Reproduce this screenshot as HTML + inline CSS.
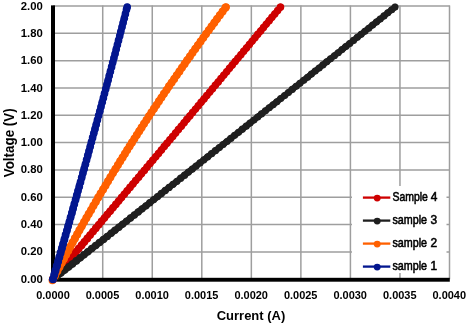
<!DOCTYPE html><html><head><meta charset="utf-8"><style>html,body{margin:0;padding:0;background:#fff;}svg{display:block;}text{font-family:"Liberation Sans",Arial,sans-serif;font-weight:bold;fill:#000;}</style></head><body>
<svg width="468" height="325" viewBox="0 0 468 325">
<rect width="468" height="325" fill="#fff"/>
<g stroke="#9E9E9E" stroke-width="1.5"><line x1="53.0" y1="251.94" x2="449.8" y2="251.94"/><line x1="53.0" y1="224.61" x2="449.8" y2="224.61"/><line x1="53.0" y1="197.28" x2="449.8" y2="197.28"/><line x1="53.0" y1="169.95" x2="449.8" y2="169.95"/><line x1="53.0" y1="142.62" x2="449.8" y2="142.62"/><line x1="53.0" y1="115.29" x2="449.8" y2="115.29"/><line x1="53.0" y1="87.96" x2="449.8" y2="87.96"/><line x1="53.0" y1="60.63" x2="449.8" y2="60.63"/><line x1="53.0" y1="33.30" x2="449.8" y2="33.30"/><line x1="53.0" y1="5.97" x2="449.8" y2="5.97"/><line x1="102.72" y1="5.47" x2="102.72" y2="279.27"/><line x1="152.26" y1="5.47" x2="152.26" y2="279.27"/><line x1="201.80" y1="5.47" x2="201.80" y2="279.27"/><line x1="251.34" y1="5.47" x2="251.34" y2="279.27"/><line x1="300.88" y1="5.47" x2="300.88" y2="279.27"/><line x1="350.42" y1="5.47" x2="350.42" y2="279.27"/><line x1="399.96" y1="5.47" x2="399.96" y2="279.27"/><line x1="449.50" y1="5.47" x2="449.50" y2="279.27"/></g>
<rect x="51" y="5.37" width="4" height="276.43" fill="#000"/>
<rect x="51" y="277.8" width="398.8" height="3.9" fill="#000"/>
<g fill="none" stroke="#CE0000" stroke-linecap="round" stroke-linejoin="round"><polyline points="53.00,279.27 55.86,275.87 58.72,272.46 61.57,269.06 64.43,265.66" stroke-width="6.94"/><polyline points="64.43,265.66 67.29,262.26 70.14,258.85 73.00,255.45 75.86,252.05" stroke-width="6.85"/><polyline points="75.86,252.05 78.71,248.65 81.57,245.24 84.42,241.84 87.28,238.44" stroke-width="6.76"/><polyline points="87.28,238.44 90.13,235.04 92.98,231.63 95.84,228.23 98.69,224.83" stroke-width="6.70"/><polyline points="98.69,224.83 101.54,221.43 104.39,218.02 107.24,214.62 110.10,211.22" stroke-width="6.64"/><polyline points="110.10,211.22 112.95,207.82 115.80,204.41 118.65,201.01 121.50,197.61" stroke-width="6.60"/><polyline points="121.50,197.61 124.35,194.21 127.20,190.80 130.04,187.40 132.89,184.00" stroke-width="6.56"/><polyline points="132.89,184.00 135.74,180.60 138.59,177.19 141.44,173.79 144.28,170.39" stroke-width="6.53"/><polyline points="144.28,170.39 147.13,166.98 149.97,163.58 152.82,160.18 155.67,156.78" stroke-width="6.51"/><polyline points="155.67,156.78 158.51,153.37 161.36,149.97 164.20,146.57 167.04,143.17" stroke-width="6.49"/><polyline points="167.04,143.17 169.89,139.76 172.73,136.36 175.57,132.96 178.41,129.56" stroke-width="6.47"/><polyline points="178.41,129.56 181.26,126.15 184.10,122.75 186.94,119.35 189.78,115.95" stroke-width="6.46"/><polyline points="189.78,115.95 192.62,112.54 195.46,109.14 198.30,105.74 201.14,102.34" stroke-width="6.45"/><polyline points="201.14,102.34 203.98,98.93 206.82,95.53 209.66,92.13 212.49,88.73" stroke-width="6.44"/><polyline points="212.49,88.73 215.33,85.32 218.17,81.92 221.01,78.52 223.84,75.11" stroke-width="6.43"/><polyline points="223.84,75.11 226.68,71.71 229.51,68.31 232.35,64.91 235.18,61.50" stroke-width="6.43"/><polyline points="235.18,61.50 238.02,58.10 240.85,54.70 243.69,51.30 246.52,47.89" stroke-width="6.42"/><polyline points="246.52,47.89 249.35,44.49 252.18,41.09 255.02,37.69 257.85,34.28" stroke-width="6.42"/><polyline points="257.85,34.28 260.68,30.88 263.51,27.48 266.34,24.08 269.17,20.67" stroke-width="6.42"/><polyline points="269.17,20.67 272.00,17.27 274.83,13.87 277.66,10.47 280.49,7.06" stroke-width="6.41"/></g>
<g fill="#CE0000"><circle cx="53.0" cy="279.3" r="4.00"/><circle cx="55.9" cy="275.9" r="3.99"/><circle cx="58.7" cy="272.5" r="3.97"/><circle cx="61.6" cy="269.1" r="3.96"/><circle cx="64.4" cy="265.7" r="3.95"/><circle cx="67.3" cy="262.3" r="3.93"/><circle cx="70.1" cy="258.9" r="3.92"/><circle cx="73.0" cy="255.5" r="3.91"/><circle cx="75.9" cy="252.0" r="3.90"/><circle cx="78.7" cy="248.6" r="3.89"/><circle cx="81.6" cy="245.2" r="3.88"/><circle cx="84.4" cy="241.8" r="3.87"/><circle cx="87.3" cy="238.4" r="3.87"/><circle cx="90.1" cy="235.0" r="3.86"/><circle cx="93.0" cy="231.6" r="3.85"/><circle cx="95.8" cy="228.2" r="3.84"/><circle cx="98.7" cy="224.8" r="3.84"/><circle cx="101.5" cy="221.4" r="3.83"/><circle cx="104.4" cy="218.0" r="3.82"/><circle cx="107.2" cy="214.6" r="3.82"/><circle cx="110.1" cy="211.2" r="3.81"/><circle cx="112.9" cy="207.8" r="3.81"/><circle cx="115.8" cy="204.4" r="3.80"/><circle cx="118.6" cy="201.0" r="3.80"/><circle cx="121.5" cy="197.6" r="3.79"/><circle cx="124.3" cy="194.2" r="3.79"/><circle cx="127.2" cy="190.8" r="3.78"/><circle cx="130.0" cy="187.4" r="3.78"/><circle cx="132.9" cy="184.0" r="3.77"/><circle cx="135.7" cy="180.6" r="3.77"/><circle cx="138.6" cy="177.2" r="3.77"/><circle cx="141.4" cy="173.8" r="3.76"/><circle cx="144.3" cy="170.4" r="3.76"/><circle cx="147.1" cy="167.0" r="3.76"/><circle cx="150.0" cy="163.6" r="3.76"/><circle cx="152.8" cy="160.2" r="3.75"/><circle cx="155.7" cy="156.8" r="3.75"/><circle cx="158.5" cy="153.4" r="3.75"/><circle cx="161.4" cy="150.0" r="3.75"/><circle cx="164.2" cy="146.6" r="3.74"/><circle cx="167.0" cy="143.2" r="3.74"/><circle cx="169.9" cy="139.8" r="3.74"/><circle cx="172.7" cy="136.4" r="3.74"/><circle cx="175.6" cy="133.0" r="3.74"/><circle cx="178.4" cy="129.6" r="3.73"/><circle cx="181.3" cy="126.2" r="3.73"/><circle cx="184.1" cy="122.8" r="3.73"/><circle cx="186.9" cy="119.3" r="3.73"/><circle cx="189.8" cy="115.9" r="3.73"/><circle cx="192.6" cy="112.5" r="3.73"/><circle cx="195.5" cy="109.1" r="3.72"/><circle cx="198.3" cy="105.7" r="3.72"/><circle cx="201.1" cy="102.3" r="3.72"/><circle cx="204.0" cy="98.9" r="3.72"/><circle cx="206.8" cy="95.5" r="3.72"/><circle cx="209.7" cy="92.1" r="3.72"/><circle cx="212.5" cy="88.7" r="3.72"/><circle cx="215.3" cy="85.3" r="3.72"/><circle cx="218.2" cy="81.9" r="3.72"/><circle cx="221.0" cy="78.5" r="3.72"/><circle cx="223.8" cy="75.1" r="3.72"/><circle cx="226.7" cy="71.7" r="3.71"/><circle cx="229.5" cy="68.3" r="3.71"/><circle cx="232.3" cy="64.9" r="3.71"/><circle cx="235.2" cy="61.5" r="3.71"/><circle cx="238.0" cy="58.1" r="3.71"/><circle cx="240.9" cy="54.7" r="3.71"/><circle cx="243.7" cy="51.3" r="3.71"/><circle cx="246.5" cy="47.9" r="3.71"/><circle cx="249.4" cy="44.5" r="3.71"/><circle cx="252.2" cy="41.1" r="3.71"/><circle cx="255.0" cy="37.7" r="3.71"/><circle cx="257.8" cy="34.3" r="3.71"/><circle cx="260.7" cy="30.9" r="3.71"/><circle cx="263.5" cy="27.5" r="3.71"/><circle cx="266.3" cy="24.1" r="3.71"/><circle cx="269.2" cy="20.7" r="3.71"/><circle cx="272.0" cy="17.3" r="3.71"/><circle cx="274.8" cy="13.9" r="3.71"/><circle cx="277.7" cy="10.5" r="3.71"/><circle cx="280.5" cy="7.1" r="3.71"/><circle cx="280.5" cy="7.1" r="3.71"/></g>
<g fill="none" stroke="#1F1F1F" stroke-linecap="round" stroke-linejoin="round"><polyline points="53.00,279.27 57.31,275.87 61.63,272.46 65.94,269.06 70.25,265.66" stroke-width="6.64"/><polyline points="70.25,265.66 74.56,262.26 78.87,258.85 83.18,255.45 87.49,252.05" stroke-width="6.55"/><polyline points="87.49,252.05 91.80,248.65 96.10,245.24 100.41,241.84 104.71,238.44" stroke-width="6.46"/><polyline points="104.71,238.44 109.01,235.04 113.32,231.63 117.62,228.23 121.92,224.83" stroke-width="6.40"/><polyline points="121.92,224.83 126.21,221.43 130.51,218.02 134.81,214.62 139.10,211.22" stroke-width="6.34"/><polyline points="139.10,211.22 143.40,207.82 147.69,204.41 151.99,201.01 156.28,197.61" stroke-width="6.30"/><polyline points="156.28,197.61 160.57,194.21 164.86,190.80 169.15,187.40 173.44,184.00" stroke-width="6.26"/><polyline points="173.44,184.00 177.72,180.60 182.01,177.19 186.29,173.79 190.58,170.39" stroke-width="6.23"/><polyline points="190.58,170.39 194.86,166.98 199.14,163.58 203.42,160.18 207.70,156.78" stroke-width="6.21"/><polyline points="207.70,156.78 211.98,153.37 216.26,149.97 220.54,146.57 224.81,143.17" stroke-width="6.19"/><polyline points="224.81,143.17 229.09,139.76 233.36,136.36 237.64,132.96 241.91,129.56" stroke-width="6.17"/><polyline points="241.91,129.56 246.18,126.15 250.45,122.75 254.72,119.35 258.99,115.95" stroke-width="6.16"/><polyline points="258.99,115.95 263.25,112.54 267.52,109.14 271.78,105.74 276.05,102.34" stroke-width="6.15"/><polyline points="276.05,102.34 280.31,98.93 284.57,95.53 288.83,92.13 293.09,88.73" stroke-width="6.14"/><polyline points="293.09,88.73 297.35,85.32 301.61,81.92 305.87,78.52 310.12,75.11" stroke-width="6.13"/><polyline points="310.12,75.11 314.38,71.71 318.63,68.31 322.89,64.91 327.14,61.50" stroke-width="6.13"/><polyline points="327.14,61.50 331.39,58.10 335.64,54.70 339.89,51.30 344.14,47.89" stroke-width="6.12"/><polyline points="344.14,47.89 348.39,44.49 352.63,41.09 356.88,37.69 361.12,34.28" stroke-width="6.12"/><polyline points="361.12,34.28 365.36,30.88 369.61,27.48 373.85,24.08 378.09,20.67" stroke-width="6.12"/><polyline points="378.09,20.67 382.33,17.27 386.57,13.87 390.80,10.47 395.04,7.06" stroke-width="6.11"/></g>
<g fill="#1F1F1F"><circle cx="53.0" cy="279.3" r="3.85"/><circle cx="56.9" cy="276.2" r="3.84"/><circle cx="60.8" cy="273.1" r="3.82"/><circle cx="64.6" cy="270.1" r="3.81"/><circle cx="68.5" cy="267.0" r="3.80"/><circle cx="72.4" cy="264.0" r="3.79"/><circle cx="76.3" cy="260.9" r="3.78"/><circle cx="80.2" cy="257.8" r="3.77"/><circle cx="84.0" cy="254.8" r="3.76"/><circle cx="87.9" cy="251.7" r="3.75"/><circle cx="91.8" cy="248.6" r="3.74"/><circle cx="95.7" cy="245.6" r="3.73"/><circle cx="99.5" cy="242.5" r="3.73"/><circle cx="103.4" cy="239.5" r="3.72"/><circle cx="107.3" cy="236.4" r="3.71"/><circle cx="111.2" cy="233.3" r="3.70"/><circle cx="115.0" cy="230.3" r="3.70"/><circle cx="118.9" cy="227.2" r="3.69"/><circle cx="122.8" cy="224.1" r="3.68"/><circle cx="126.6" cy="221.1" r="3.68"/><circle cx="130.5" cy="218.0" r="3.67"/><circle cx="134.4" cy="215.0" r="3.67"/><circle cx="138.2" cy="211.9" r="3.66"/><circle cx="142.1" cy="208.8" r="3.66"/><circle cx="146.0" cy="205.8" r="3.65"/><circle cx="149.8" cy="202.7" r="3.65"/><circle cx="153.7" cy="199.6" r="3.64"/><circle cx="157.6" cy="196.6" r="3.64"/><circle cx="161.4" cy="193.5" r="3.64"/><circle cx="165.3" cy="190.5" r="3.63"/><circle cx="169.1" cy="187.4" r="3.63"/><circle cx="173.0" cy="184.3" r="3.62"/><circle cx="176.9" cy="181.3" r="3.62"/><circle cx="180.7" cy="178.2" r="3.62"/><circle cx="184.6" cy="175.2" r="3.62"/><circle cx="188.4" cy="172.1" r="3.61"/><circle cx="192.3" cy="169.0" r="3.61"/><circle cx="196.1" cy="166.0" r="3.61"/><circle cx="200.0" cy="162.9" r="3.60"/><circle cx="203.9" cy="159.8" r="3.60"/><circle cx="207.7" cy="156.8" r="3.60"/><circle cx="211.6" cy="153.7" r="3.60"/><circle cx="215.4" cy="150.7" r="3.60"/><circle cx="219.3" cy="147.6" r="3.59"/><circle cx="223.1" cy="144.5" r="3.59"/><circle cx="227.0" cy="141.5" r="3.59"/><circle cx="230.8" cy="138.4" r="3.59"/><circle cx="234.6" cy="135.3" r="3.59"/><circle cx="238.5" cy="132.3" r="3.58"/><circle cx="242.3" cy="129.2" r="3.58"/><circle cx="246.2" cy="126.2" r="3.58"/><circle cx="250.0" cy="123.1" r="3.58"/><circle cx="253.9" cy="120.0" r="3.58"/><circle cx="257.7" cy="117.0" r="3.58"/><circle cx="261.5" cy="113.9" r="3.58"/><circle cx="265.4" cy="110.8" r="3.58"/><circle cx="269.2" cy="107.8" r="3.57"/><circle cx="273.1" cy="104.7" r="3.57"/><circle cx="276.9" cy="101.7" r="3.57"/><circle cx="280.7" cy="98.6" r="3.57"/><circle cx="284.6" cy="95.5" r="3.57"/><circle cx="288.4" cy="92.5" r="3.57"/><circle cx="292.2" cy="89.4" r="3.57"/><circle cx="296.1" cy="86.3" r="3.57"/><circle cx="299.9" cy="83.3" r="3.57"/><circle cx="303.7" cy="80.2" r="3.57"/><circle cx="307.6" cy="77.2" r="3.57"/><circle cx="311.4" cy="74.1" r="3.56"/><circle cx="315.2" cy="71.0" r="3.56"/><circle cx="319.1" cy="68.0" r="3.56"/><circle cx="322.9" cy="64.9" r="3.56"/><circle cx="326.7" cy="61.8" r="3.56"/><circle cx="330.5" cy="58.8" r="3.56"/><circle cx="334.4" cy="55.7" r="3.56"/><circle cx="338.2" cy="52.7" r="3.56"/><circle cx="342.0" cy="49.6" r="3.56"/><circle cx="345.8" cy="46.5" r="3.56"/><circle cx="349.7" cy="43.5" r="3.56"/><circle cx="353.5" cy="40.4" r="3.56"/><circle cx="357.3" cy="37.3" r="3.56"/><circle cx="361.1" cy="34.3" r="3.56"/><circle cx="364.9" cy="31.2" r="3.56"/><circle cx="368.8" cy="28.2" r="3.56"/><circle cx="372.6" cy="25.1" r="3.56"/><circle cx="376.4" cy="22.0" r="3.56"/><circle cx="380.2" cy="19.0" r="3.56"/><circle cx="384.0" cy="15.9" r="3.56"/><circle cx="387.8" cy="12.8" r="3.56"/><circle cx="391.7" cy="9.8" r="3.56"/><circle cx="395.0" cy="7.1" r="3.56"/></g>
<g fill="none" stroke="#FF6000" stroke-linecap="round" stroke-linejoin="round"><polyline points="53.00,279.27 54.77,275.87 56.55,272.46 58.34,269.06 60.14,265.66" stroke-width="7.17"/><polyline points="60.14,265.66 61.95,262.26 63.77,258.85 65.60,255.45 67.44,252.05" stroke-width="7.12"/><polyline points="67.44,252.05 69.29,248.65 71.15,245.24 73.02,241.84 74.90,238.44" stroke-width="7.08"/><polyline points="74.90,238.44 76.79,235.04 78.69,231.63 80.60,228.23 82.51,224.83" stroke-width="7.05"/><polyline points="82.51,224.83 84.44,221.43 86.38,218.02 88.33,214.62 90.29,211.22" stroke-width="7.02"/><polyline points="90.29,211.22 92.26,207.82 94.24,204.41 96.23,201.01 98.22,197.61" stroke-width="7.00"/><polyline points="98.22,197.61 100.23,194.21 102.25,190.80 104.28,187.40 106.32,184.00" stroke-width="6.98"/><polyline points="106.32,184.00 108.36,180.60 110.42,177.19 112.49,173.79 114.57,170.39" stroke-width="6.97"/><polyline points="114.57,170.39 116.65,166.98 118.75,163.58 120.86,160.18 122.97,156.78" stroke-width="6.96"/><polyline points="122.97,156.78 125.10,153.37 127.24,149.97 129.39,146.57 131.54,143.17" stroke-width="6.95"/><polyline points="131.54,143.17 133.71,139.76 135.89,136.36 138.07,132.96 140.27,129.56" stroke-width="6.94"/><polyline points="140.27,129.56 142.48,126.15 144.69,122.75 146.92,119.35 149.15,115.95" stroke-width="6.93"/><polyline points="149.15,115.95 151.40,112.54 153.66,109.14 155.92,105.74 158.20,102.34" stroke-width="6.92"/><polyline points="158.20,102.34 160.48,98.93 162.78,95.53 165.08,92.13 167.40,88.73" stroke-width="6.92"/><polyline points="167.40,88.73 169.72,85.32 172.06,81.92 174.40,78.52 176.76,75.11" stroke-width="6.92"/><polyline points="176.76,75.11 179.12,71.71 181.50,68.31 183.88,64.91 186.28,61.50" stroke-width="6.91"/><polyline points="186.28,61.50 188.68,58.10 191.10,54.70 193.52,51.30 195.95,47.89" stroke-width="6.91"/><polyline points="195.95,47.89 198.40,44.49 200.85,41.09 203.32,37.69 205.79,34.28" stroke-width="6.91"/><polyline points="205.79,34.28 208.27,30.88 210.77,27.48 213.27,24.08 215.78,20.67" stroke-width="6.91"/><polyline points="215.78,20.67 218.31,17.27 220.84,13.87 223.38,10.47 225.94,7.06" stroke-width="6.91"/></g>
<g fill="#FF6000"><circle cx="53.0" cy="279.3" r="4.10"/><circle cx="55.1" cy="275.2" r="4.09"/><circle cx="57.3" cy="271.1" r="4.08"/><circle cx="59.4" cy="267.0" r="4.08"/><circle cx="61.6" cy="262.9" r="4.07"/><circle cx="63.8" cy="258.9" r="4.06"/><circle cx="66.0" cy="254.8" r="4.05"/><circle cx="68.2" cy="250.7" r="4.05"/><circle cx="70.4" cy="246.6" r="4.04"/><circle cx="72.6" cy="242.5" r="4.04"/><circle cx="74.9" cy="238.4" r="4.03"/><circle cx="77.2" cy="234.4" r="4.03"/><circle cx="79.4" cy="230.3" r="4.02"/><circle cx="81.7" cy="226.2" r="4.02"/><circle cx="84.1" cy="222.1" r="4.01"/><circle cx="86.4" cy="218.0" r="4.01"/><circle cx="88.7" cy="213.9" r="4.01"/><circle cx="91.1" cy="209.9" r="4.00"/><circle cx="93.4" cy="205.8" r="4.00"/><circle cx="95.8" cy="201.7" r="4.00"/><circle cx="98.2" cy="197.6" r="4.00"/><circle cx="100.6" cy="193.5" r="3.99"/><circle cx="103.1" cy="189.4" r="3.99"/><circle cx="105.5" cy="185.4" r="3.99"/><circle cx="108.0" cy="181.3" r="3.99"/><circle cx="110.4" cy="177.2" r="3.98"/><circle cx="112.9" cy="173.1" r="3.98"/><circle cx="115.4" cy="169.0" r="3.98"/><circle cx="117.9" cy="164.9" r="3.98"/><circle cx="120.2" cy="161.2" r="3.98"/><circle cx="122.6" cy="157.5" r="3.98"/><circle cx="124.9" cy="153.7" r="3.97"/><circle cx="127.2" cy="150.0" r="3.97"/><circle cx="129.6" cy="146.2" r="3.97"/><circle cx="132.0" cy="142.5" r="3.97"/><circle cx="134.4" cy="138.7" r="3.97"/><circle cx="136.8" cy="135.0" r="3.97"/><circle cx="139.2" cy="131.3" r="3.97"/><circle cx="141.6" cy="127.5" r="3.97"/><circle cx="144.0" cy="123.8" r="3.97"/><circle cx="146.5" cy="120.0" r="3.96"/><circle cx="148.9" cy="116.3" r="3.96"/><circle cx="151.4" cy="112.5" r="3.96"/><circle cx="153.9" cy="108.8" r="3.96"/><circle cx="156.4" cy="105.1" r="3.96"/><circle cx="158.9" cy="101.3" r="3.96"/><circle cx="161.4" cy="97.6" r="3.96"/><circle cx="163.9" cy="93.8" r="3.96"/><circle cx="166.5" cy="90.1" r="3.96"/><circle cx="169.0" cy="86.3" r="3.96"/><circle cx="171.6" cy="82.6" r="3.96"/><circle cx="174.2" cy="78.9" r="3.96"/><circle cx="176.8" cy="75.1" r="3.96"/><circle cx="179.4" cy="71.4" r="3.96"/><circle cx="182.0" cy="67.6" r="3.96"/><circle cx="184.6" cy="63.9" r="3.96"/><circle cx="187.2" cy="60.1" r="3.96"/><circle cx="189.9" cy="56.4" r="3.96"/><circle cx="192.5" cy="52.7" r="3.96"/><circle cx="195.2" cy="48.9" r="3.96"/><circle cx="197.9" cy="45.2" r="3.95"/><circle cx="200.6" cy="41.4" r="3.95"/><circle cx="203.3" cy="37.7" r="3.95"/><circle cx="206.0" cy="33.9" r="3.95"/><circle cx="208.8" cy="30.2" r="3.95"/><circle cx="211.5" cy="26.5" r="3.95"/><circle cx="214.3" cy="22.7" r="3.95"/><circle cx="217.0" cy="19.0" r="3.95"/><circle cx="219.8" cy="15.2" r="3.95"/><circle cx="222.6" cy="11.5" r="3.95"/><circle cx="225.4" cy="7.7" r="3.95"/><circle cx="225.9" cy="7.1" r="3.95"/></g>
<circle cx="52.4" cy="280.5" r="3.8" fill="#FF6000"/>
<g fill="none" stroke="#03168F" stroke-linecap="round" stroke-linejoin="round"><polyline points="53.00,279.27 53.98,275.87 54.96,272.46 55.93,269.06 56.91,265.66" stroke-width="7.05"/><polyline points="56.91,265.66 57.88,262.26 58.86,258.85 59.83,255.45 60.80,252.05" stroke-width="6.97"/><polyline points="60.80,252.05 61.77,248.65 62.73,245.24 63.70,241.84 64.67,238.44" stroke-width="6.90"/><polyline points="64.67,238.44 65.63,235.04 66.59,231.63 67.55,228.23 68.51,224.83" stroke-width="6.85"/><polyline points="68.51,224.83 69.47,221.43 70.43,218.02 71.38,214.62 72.34,211.22" stroke-width="6.80"/><polyline points="72.34,211.22 73.29,207.82 74.24,204.41 75.19,201.01 76.14,197.61" stroke-width="6.77"/><polyline points="76.14,197.61 77.09,194.21 78.03,190.80 78.98,187.40 79.92,184.00" stroke-width="6.74"/><polyline points="79.92,184.00 80.86,180.60 81.80,177.19 82.74,173.79 83.68,170.39" stroke-width="6.71"/><polyline points="83.68,170.39 84.62,166.98 85.56,163.58 86.49,160.18 87.42,156.78" stroke-width="6.69"/><polyline points="87.42,156.78 88.35,153.37 89.28,149.97 90.21,146.57 91.14,143.17" stroke-width="6.68"/><polyline points="91.14,143.17 92.07,139.76 92.99,136.36 93.92,132.96 94.84,129.56" stroke-width="6.66"/><polyline points="94.84,129.56 95.76,126.15 96.68,122.75 97.60,119.35 98.51,115.95" stroke-width="6.65"/><polyline points="98.51,115.95 99.43,112.54 100.34,109.14 101.26,105.74 102.17,102.34" stroke-width="6.64"/><polyline points="102.17,102.34 103.08,98.93 103.99,95.53 104.90,92.13 105.80,88.73" stroke-width="6.63"/><polyline points="105.80,88.73 106.71,85.32 107.61,81.92 108.51,78.52 109.42,75.11" stroke-width="6.63"/><polyline points="109.42,75.11 110.32,71.71 111.21,68.31 112.11,64.91 113.01,61.50" stroke-width="6.62"/><polyline points="113.01,61.50 113.90,58.10 114.79,54.70 115.69,51.30 116.58,47.89" stroke-width="6.62"/><polyline points="116.58,47.89 117.47,44.49 118.35,41.09 119.24,37.69 120.13,34.28" stroke-width="6.62"/><polyline points="120.13,34.28 121.01,30.88 121.89,27.48 122.77,24.08 123.65,20.67" stroke-width="6.61"/><polyline points="123.65,20.67 124.53,17.27 125.41,13.87 126.28,10.47 127.16,7.06" stroke-width="6.61"/></g>
<g fill="#03168F"><circle cx="53.0" cy="279.3" r="4.05"/><circle cx="54.3" cy="274.8" r="4.03"/><circle cx="55.5" cy="270.4" r="4.02"/><circle cx="56.8" cy="266.0" r="4.01"/><circle cx="58.1" cy="261.6" r="3.99"/><circle cx="59.3" cy="257.2" r="3.98"/><circle cx="60.6" cy="252.7" r="3.97"/><circle cx="61.9" cy="248.3" r="3.96"/><circle cx="63.1" cy="243.9" r="3.95"/><circle cx="64.4" cy="239.5" r="3.94"/><circle cx="65.6" cy="235.0" r="3.93"/><circle cx="66.9" cy="230.6" r="3.92"/><circle cx="68.1" cy="226.2" r="3.91"/><circle cx="69.4" cy="221.8" r="3.91"/><circle cx="70.6" cy="217.3" r="3.90"/><circle cx="71.9" cy="212.9" r="3.89"/><circle cx="73.1" cy="208.5" r="3.89"/><circle cx="74.3" cy="204.1" r="3.88"/><circle cx="75.6" cy="199.6" r="3.88"/><circle cx="76.8" cy="195.2" r="3.87"/><circle cx="78.0" cy="190.8" r="3.87"/><circle cx="79.3" cy="186.4" r="3.86"/><circle cx="80.5" cy="182.0" r="3.86"/><circle cx="81.7" cy="177.5" r="3.86"/><circle cx="82.9" cy="173.1" r="3.85"/><circle cx="84.2" cy="168.7" r="3.85"/><circle cx="85.4" cy="164.3" r="3.85"/><circle cx="86.6" cy="159.8" r="3.84"/><circle cx="87.8" cy="155.4" r="3.84"/><circle cx="89.0" cy="151.0" r="3.84"/><circle cx="90.2" cy="146.6" r="3.84"/><circle cx="91.4" cy="142.1" r="3.83"/><circle cx="92.6" cy="137.7" r="3.83"/><circle cx="93.8" cy="133.3" r="3.83"/><circle cx="95.0" cy="128.9" r="3.83"/><circle cx="96.2" cy="124.5" r="3.83"/><circle cx="97.4" cy="120.0" r="3.82"/><circle cx="98.6" cy="115.6" r="3.82"/><circle cx="99.8" cy="111.2" r="3.82"/><circle cx="101.0" cy="106.8" r="3.82"/><circle cx="102.2" cy="102.3" r="3.82"/><circle cx="103.4" cy="97.9" r="3.82"/><circle cx="104.5" cy="93.5" r="3.82"/><circle cx="105.7" cy="89.1" r="3.82"/><circle cx="106.9" cy="84.6" r="3.81"/><circle cx="108.1" cy="80.2" r="3.81"/><circle cx="109.2" cy="75.8" r="3.81"/><circle cx="110.4" cy="71.4" r="3.81"/><circle cx="111.6" cy="66.9" r="3.81"/><circle cx="112.7" cy="62.5" r="3.81"/><circle cx="113.9" cy="58.1" r="3.81"/><circle cx="115.1" cy="53.7" r="3.81"/><circle cx="116.2" cy="49.3" r="3.81"/><circle cx="117.4" cy="44.8" r="3.81"/><circle cx="118.5" cy="40.4" r="3.81"/><circle cx="119.7" cy="36.0" r="3.81"/><circle cx="120.8" cy="31.6" r="3.81"/><circle cx="122.0" cy="27.1" r="3.81"/><circle cx="123.1" cy="22.7" r="3.81"/><circle cx="124.3" cy="18.3" r="3.81"/><circle cx="125.4" cy="13.9" r="3.81"/><circle cx="126.5" cy="9.4" r="3.80"/><circle cx="127.2" cy="7.1" r="3.80"/></g>
<text x="42.8" y="282.8" font-size="11.8" text-anchor="end" textLength="22.0" lengthAdjust="spacingAndGlyphs">0.00</text>
<text x="42.8" y="255.4" font-size="11.8" text-anchor="end" textLength="22.0" lengthAdjust="spacingAndGlyphs">0.20</text>
<text x="42.8" y="228.1" font-size="11.8" text-anchor="end" textLength="22.0" lengthAdjust="spacingAndGlyphs">0.40</text>
<text x="42.8" y="200.8" font-size="11.8" text-anchor="end" textLength="22.0" lengthAdjust="spacingAndGlyphs">0.60</text>
<text x="42.8" y="173.4" font-size="11.8" text-anchor="end" textLength="22.0" lengthAdjust="spacingAndGlyphs">0.80</text>
<text x="42.8" y="146.1" font-size="11.8" text-anchor="end" textLength="22.0" lengthAdjust="spacingAndGlyphs">1.00</text>
<text x="42.8" y="118.8" font-size="11.8" text-anchor="end" textLength="22.0" lengthAdjust="spacingAndGlyphs">1.20</text>
<text x="42.8" y="91.5" font-size="11.8" text-anchor="end" textLength="22.0" lengthAdjust="spacingAndGlyphs">1.40</text>
<text x="42.8" y="64.1" font-size="11.8" text-anchor="end" textLength="22.0" lengthAdjust="spacingAndGlyphs">1.60</text>
<text x="42.8" y="36.8" font-size="11.8" text-anchor="end" textLength="22.0" lengthAdjust="spacingAndGlyphs">1.80</text>
<text x="42.8" y="9.5" font-size="11.8" text-anchor="end" textLength="22.0" lengthAdjust="spacingAndGlyphs">2.00</text>
<text x="53.0" y="299" font-size="11.8" text-anchor="middle" textLength="33.6" lengthAdjust="spacingAndGlyphs">0.0000</text>
<text x="102.5" y="299" font-size="11.8" text-anchor="middle" textLength="33.6" lengthAdjust="spacingAndGlyphs">0.0005</text>
<text x="152.1" y="299" font-size="11.8" text-anchor="middle" textLength="33.6" lengthAdjust="spacingAndGlyphs">0.0010</text>
<text x="201.6" y="299" font-size="11.8" text-anchor="middle" textLength="33.6" lengthAdjust="spacingAndGlyphs">0.0015</text>
<text x="251.2" y="299" font-size="11.8" text-anchor="middle" textLength="33.6" lengthAdjust="spacingAndGlyphs">0.0020</text>
<text x="300.7" y="299" font-size="11.8" text-anchor="middle" textLength="33.6" lengthAdjust="spacingAndGlyphs">0.0025</text>
<text x="350.2" y="299" font-size="11.8" text-anchor="middle" textLength="33.6" lengthAdjust="spacingAndGlyphs">0.0030</text>
<text x="399.8" y="299" font-size="11.8" text-anchor="middle" textLength="33.6" lengthAdjust="spacingAndGlyphs">0.0035</text>
<text x="449.3" y="299" font-size="11.8" text-anchor="middle" textLength="33.6" lengthAdjust="spacingAndGlyphs">0.0040</text>
<text x="251" y="320.4" font-size="13" text-anchor="middle" textLength="68.5" lengthAdjust="spacingAndGlyphs">Current (A)</text>
<text transform="translate(13.9,142.8) rotate(-90)" x="0" y="0" font-size="13.8" text-anchor="middle" textLength="69" lengthAdjust="spacingAndGlyphs">Voltage (V)</text>
<rect x="352" y="186" width="94.5" height="87" fill="#fff"/>
<line x1="362.9" y1="197.6" x2="390.3" y2="197.6" stroke="#CE0000" stroke-width="2.3"/>
<circle cx="377.2" cy="198.1" r="3.45" fill="#CE0000"/>
<text y="200.6" font-size="11.9" style="font-weight:normal;stroke:#000;stroke-width:0.55"><tspan x="392.5" textLength="35.4" lengthAdjust="spacingAndGlyphs">Sample</tspan> <tspan x="430.8">4</tspan></text>
<line x1="362.9" y1="220.6" x2="390.3" y2="220.6" stroke="#1F1F1F" stroke-width="2.3"/>
<circle cx="377.2" cy="221.1" r="3.45" fill="#1F1F1F"/>
<text y="223.6" font-size="11.9" style="font-weight:normal;stroke:#000;stroke-width:0.55"><tspan x="392.5" textLength="34.6" lengthAdjust="spacingAndGlyphs">sample</tspan> <tspan x="430.5">3</tspan></text>
<line x1="362.9" y1="243.6" x2="390.3" y2="243.6" stroke="#FF6000" stroke-width="2.3"/>
<circle cx="377.2" cy="244.1" r="3.45" fill="#FF6000"/>
<text y="246.6" font-size="11.9" style="font-weight:normal;stroke:#000;stroke-width:0.55"><tspan x="392.5" textLength="34.6" lengthAdjust="spacingAndGlyphs">sample</tspan> <tspan x="430.5">2</tspan></text>
<line x1="362.9" y1="266.6" x2="390.3" y2="266.6" stroke="#03168F" stroke-width="2.3"/>
<circle cx="377.2" cy="267.1" r="3.45" fill="#03168F"/>
<text y="269.6" font-size="11.9" style="font-weight:normal;stroke:#000;stroke-width:0.55"><tspan x="392.5" textLength="34.6" lengthAdjust="spacingAndGlyphs">sample</tspan> <tspan x="430.5">1</tspan></text>
</svg></body></html>
